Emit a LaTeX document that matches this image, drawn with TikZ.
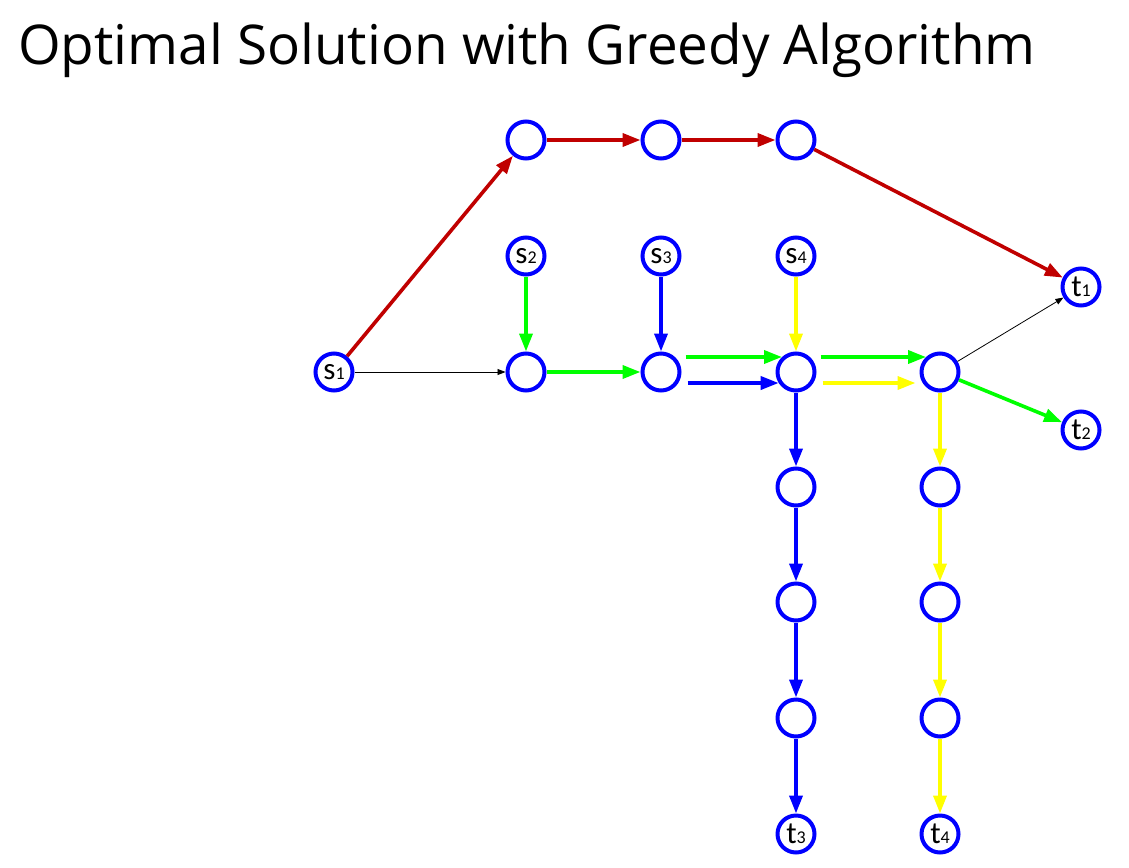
\documentclass[tikz,border=0pt]{standalone}
\usepackage{fontspec}
\setmainfont{Carlito}
\newfontfamily\titlefont{Open Sans}
\usetikzlibrary{arrows.meta}
\definecolor{rred}{HTML}{C00000}
\definecolor{bblue}{HTML}{0000FF}
\definecolor{ggreen}{HTML}{00FF00}
\definecolor{yyellow}{HTML}{FFFF00}
\newcommand{\lab}[2]{{\fontsize{31}{31}\selectfont #1}{\fontsize{18}{18}\selectfont #2}}
\tikzset{
  vtx/.style={circle,draw=bblue,line width=4pt,minimum size=37pt,inner sep=0pt,fill=white},
  fat/.style={line width=3.6pt,-{Triangle[length=18pt,width=13pt]}},
  thin/.style={line width=0.8pt,black,-{Triangle[length=8pt,width=6pt]}},
}
\begin{document}
\begin{tikzpicture}[x=1pt,y=-1pt]
\useasboundingbox (0,0) rectangle (1129,867);
\node[anchor=base west,inner sep=0pt] (title) at (18,65) {\titlefont\fontsize{54.8}{55}\selectfont Optimal Solution with Greedy Algorithm};
% nodes
\node[vtx] (a1) at (526,140) {};
\node[vtx] (a2) at (661,140) {};
\node[vtx] (a3) at (796,140) {};
\node[vtx] (s2) at (526,256) {\lab{s}{2}};
\node[vtx] (s3) at (661,256) {\lab{s}{3}};
\node[vtx] (s4) at (796,256) {\lab{s}{4}};
\node[vtx] (s1) at (334,372) {\lab{s}{1}};
\node[vtx] (b1) at (526,372) {};
\node[vtx] (b2) at (661,372) {};
\node[vtx] (b3) at (796,372) {};
\node[vtx] (b4) at (940,372) {};
\node[vtx] (t1) at (1081,287) {\lab{t}{1}};
\node[vtx] (t2) at (1081,430) {\lab{t}{2}};
\node[vtx] (c1) at (796,487) {};
\node[vtx] (c2) at (796,602) {};
\node[vtx] (c3) at (796,718) {};
\node[vtx] (t3) at (796,834) {\lab{t}{3}};
\node[vtx] (d1) at (940,487) {};
\node[vtx] (d2) at (940,602) {};
\node[vtx] (d3) at (940,718) {};
\node[vtx] (t4) at (940,834) {\lab{t}{4}};
% red path
\draw[fat,rred] (s1) -- (a1);
\draw[fat,rred] (a1) -- (a2);
\draw[fat,rred] (a2) -- (a3);
\draw[fat,rred] (a3) -- (t1);
% thin black
\draw[thin] (s1) -- (b1);
\draw[thin] (b4) -- (t1);
% green
\draw[fat,ggreen] (s2) -- (b1);
\draw[fat,ggreen] (b1) -- (b2);
\draw[fat,ggreen] ([xshift=4pt,yshift=15pt]b2.east) -- ([xshift=6.5pt,yshift=15pt]b3.west);
\draw[fat,ggreen] ([xshift=4pt,yshift=15pt]b3.east) -- ([xshift=6.5pt,yshift=15pt]b4.west);
\draw[fat,ggreen] (b4) -- (t2);
% blue
\draw[fat,bblue] (s3) -- (b2);
\draw[fat,bblue] ([xshift=6pt,yshift=-11pt]b2.east) -- ([xshift=3.2pt,yshift=-11pt]b3.west);
\draw[fat,bblue] (b3) -- (c1);
\draw[fat,bblue] (c1) -- (c2);
\draw[fat,bblue] (c2) -- (c3);
\draw[fat,bblue] (c3) -- (t3);
% yellow
\draw[fat,yyellow] (s4) -- (b3);
\draw[fat,yyellow] ([xshift=6pt,yshift=-11pt]b3.east) -- ([xshift=-4pt,yshift=-11pt]b4.west);
\draw[fat,yyellow] (b4) -- (d1);
\draw[fat,yyellow] (d1) -- (d2);
\draw[fat,yyellow] (d2) -- (d3);
\draw[fat,yyellow] (d3) -- (t4);
\end{tikzpicture}
\end{document}
